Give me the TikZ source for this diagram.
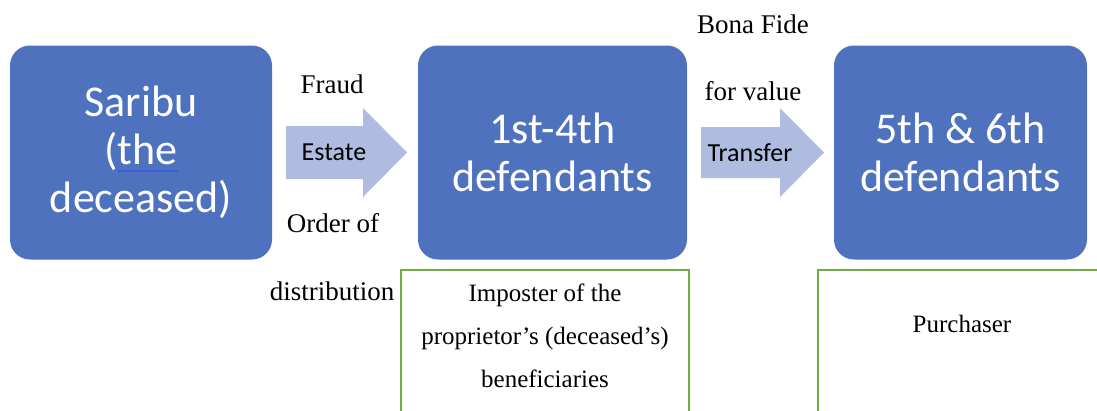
\documentclass[tikz,border=0pt]{standalone}
\usepackage{fontspec}
\setmainfont{Liberation Serif}
\newfontfamily\boxfont{Carlito}
\usepackage{tikz}
\usetikzlibrary{positioning}
\usepackage{xcolor}
\definecolor{caseblue}{RGB}{78,114,190}
\definecolor{caselightblue}{RGB}{174,188,224}
\definecolor{casegreen}{RGB}{112,173,71}
\definecolor{ulblue}{RGB}{60,92,220}
\newcommand{\spellmark}[1]{\setbox0\hbox{#1}\rlap{\color{ulblue}\rule[-7pt]{\wd0}{1.3pt}}#1}
\tikzstyle{party} = [rectangle, rounded corners=20pt, fill=caseblue, text=white, font=\boxfont\fontsize{44}{48}\selectfont, align=center, inner sep=0pt, minimum height=214pt]
\tikzstyle{flow} = [fill=caselightblue]
\tikzstyle{flowtext} = [font=\boxfont\fontsize{26}{30}\selectfont, anchor=base, inner sep=0pt]
\tikzstyle{note} = [font=\fontsize{27}{32}\selectfont, anchor=base, inner sep=0pt]
\tikzstyle{role} = [rectangle, draw=casegreen, line width=1.5pt, minimum width=288pt, minimum height=200pt, anchor=north]
\tikzstyle{roletext} = [font=\fontsize{25}{43}\selectfont, align=center, inner sep=0pt]

\begin{document}
\begin{tikzpicture}[x=1pt, y=-1pt]
\useasboundingbox (0,0) rectangle (1097,410);
\clip (0,0) rectangle (1097,410);

% Parties
\node[party, minimum width=262pt] (saribu) at (141,152.5) {Saribu\\(\spellmark{the}\\deceased)};
\node[party, minimum width=269pt] (defs14) at (552.5,152.5) {1st-4th\\defendants};
\node[party, minimum width=253pt] (defs56) at (960.5,152.5) {5th \& 6th\\defendants};

% Flows
\coordinate (estatetail) at (286,152.5);
\coordinate (transfertail) at (701,152.5);
\fill[flow] (estatetail) ++(0,-26.5) -- ++(77,0) -- ++(0,-18) -- ++(44,44.5) -- ++(-44,44.5) -- ++(0,-18) -- ++(-77,0) -- cycle;
\fill[flow] (transfertail) ++(0,-25.5) -- ++(79,0) -- ++(0,-19) -- ++(44,44.5) -- ++(-44,44.5) -- ++(0,-19) -- ++(-79,0) -- cycle;
\node[flowtext] (estate) at (334,160) {Estate};
\node[flowtext] (transfer) at (750,161) {Transfer};

% Notes on the flows
\node[note] (fraud) at (332,93) {Fraud};
\node[note] (orderof) at (333,232) {Order of};
\node[note] (distribution) at (332,300) {distribution};
\node[note] (bonafide) at (753,33) {Bona Fide};
\node[note] (forvalue) at (753,100) {for value};

% Roles
\node[role] (imposterbox) at (545,269) {};
\node[role] (purchaserbox) at (962,269) {};
\node[roletext] (imposter) at (545,336) {Imposter of the\\proprietor’s (deceased’s)\\beneficiaries};
\node[roletext, anchor=base] (purchaser) at (962,332) {Purchaser};
\end{tikzpicture}
\end{document}
